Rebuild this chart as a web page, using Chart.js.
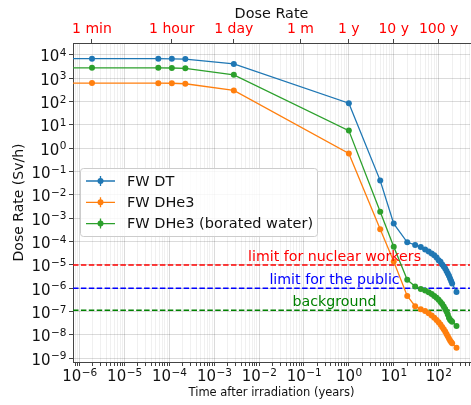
<!DOCTYPE html>
<html>
<head>
<meta charset="utf-8">
<script src="https://cdn.jsdelivr.net/npm/chart.js@4.4.0/dist/chart.umd.min.js"></script>
<style>
  html, body { margin: 0; padding: 0; background: #fff; }
  #wrap { width: 471px; height: 405px; }
</style>
</head>
<body>
<div id="wrap"><canvas id="chart"></canvas></div>
<script>
// time after irradiation (years); first entry stands in for t = 0 (off the left edge)
const times = [1e-7, 1.9e-6, 5.7e-5, 1.14e-4, 2.28e-4, 2.74e-3, 1, 5, 10,
  20, 30, 40, 50, 60, 70, 80, 90, 100, 110, 120, 130, 140, 150, 160, 170, 180, 190, 200, 250];

// dose rate (Sv/h)
const fwDT = [6.9e3, 6.9e3, 6.9e3, 6.8e3, 6.6e3, 4.1e3, 85, 0.041, 5.9e-4,
  9.3e-5, 7.2e-5, 5.8e-5, 4.6e-5, 3.8e-5, 3.1e-5, 2.6e-5, 2.1e-5, 1.6e-5, 1.35e-5, 1.05e-5,
  8.5e-6, 7e-6, 5.5e-6, 4.3e-6, 3.4e-6, 2.6e-6, 2.05e-6, 1.6e-6, 6.9e-7];
const fwDHe3 = [620, 620, 615, 610, 580, 300, 0.6, 3.4e-4, 1.4e-5,
  4.7e-7, 1.7e-7, 1.26e-7, 1.05e-7, 8.5e-8, 6.8e-8, 5.5e-8, 4.4e-8, 3.5e-8, 2.8e-8, 2.2e-8,
  1.75e-8, 1.4e-8, 1.1e-8, 8.8e-9, 7.0e-9, 5.8e-9, 5.0e-9, 4.4e-9, 2.8e-9];
const fwDHe3Borated = [2.8e3, 2.8e3, 2.8e3, 2.75e3, 2.65e3, 1.4e3, 5.7, 1.9e-3, 6e-5,
  2.3e-6, 1.2e-6, 9.3e-7, 8.0e-7, 6.8e-7, 5.6e-7, 4.7e-7, 3.9e-7, 3.2e-7, 2.6e-7, 2.1e-7,
  1.65e-7, 1.3e-7, 1.0e-7, 7.5e-8, 5.5e-8, 4.5e-8, 4.0e-8, 3.7e-8, 2.4e-8];

const seriesNames = ['FW DT', 'FW DHe3', 'FW DHe3 (borated water)'];
const seriesValues = [fwDT, fwDHe3, fwDHe3Borated];
const seriesColors = ['#1f77b4', '#ff7f0e', '#2ca02c'];

// reference levels
const limitValues = [1e-5, 1e-6, 1.15e-7];
const limitLabels = ['limit for nuclear workers', 'limit for the public', 'background'];
const limitColors = ['#ff0000', '#0000ff', '#008000'];
const limitLabelX = 0.48;

// secondary (top) axis
const topTickValues = [1.9e-6, 1.14e-4, 2.74e-3, 8.33e-2, 1, 10, 100];
const topTickLabels = ['1 min', '1 hour', '1 day', '1 m', '1 y', '10 y', '100 y'];

const xMin = 7.17e-7, xMax = 501;
const yMin = 6.9e-10, yMax = 3.24e4;

const FONT = "'DejaVu Sans', sans-serif";
const isPow10 = v => Math.abs(Math.log10(v) - Math.round(Math.log10(v))) < 1e-9;
const expOf = v => String(Math.round(Math.log10(v))).replace('-', '\u2212');

// 1..9 x 10^n inside [lo, hi]
function logTicks(lo, hi, minors) {
  const out = [];
  for (let e = Math.floor(Math.log10(lo)); e <= Math.ceil(Math.log10(hi)); e++) {
    for (let m = 1; m <= 9; m++) {
      if (!minors && m > 1) break;
      const v = m * Math.pow(10, e);
      if (v >= lo && v <= hi) out.push({ value: v, major: m === 1 });
    }
  }
  return out;
}

const datasets = seriesNames.map((name, i) => ({
  label: name,
  data: times.map((t, j) => ({ x: t, y: seriesValues[i][j] })),
  borderColor: seriesColors[i],
  backgroundColor: seriesColors[i],
  borderWidth: 1.3,
  pointRadius: 3,
  pointBorderWidth: 0,
  showLine: true,
  order: 3 - i
}));

limitValues.forEach((v, i) => {
  datasets.push({
    label: limitLabels[i],
    data: [{ x: xMin, y: v }, { x: xMax, y: v }],
    borderColor: limitColors[i],
    borderWidth: 1.5,
    borderDash: [5.5, 2.4],
    pointRadius: 0,
    showLine: true,
    order: 10
  });
});

// "10" + raised exponent, like matplotlib's mathtext labels
function drawPow(ctx, v, x, base, align) {
  const main = '10', ex = expOf(v);
  ctx.font = '15px ' + FONT;
  const wm = ctx.measureText(main).width;
  ctx.font = '10.5px ' + FONT;
  const we = ctx.measureText(ex).width;
  const left = align === 'right' ? x - wm - we : x - (wm + we) / 2;
  ctx.font = '15px ' + FONT;
  ctx.fillText(main, left, base);
  ctx.font = '10.5px ' + FONT;
  ctx.fillText(ex, left + wm + 0.5, base - 5.5);
}

const powLabelPlugin = {
  id: 'powLabels',
  afterDraw(chart) {
    const { ctx, scales } = chart;
    ctx.save();
    ctx.fillStyle = '#111';
    ctx.textAlign = 'left';
    ctx.textBaseline = 'alphabetic';
    scales.x.ticks.filter(t => isPow10(t.value)).forEach(t => {
      drawPow(ctx, t.value, scales.x.getPixelForValue(t.value), 381, 'center');
    });
    scales.y.ticks.forEach(t => {
      drawPow(ctx, t.value, 66, scales.y.getPixelForValue(t.value) + 6.5, 'right');
    });
    ctx.restore();
  }
};

const limitTextPlugin = {
  id: 'limitText',
  afterDatasetsDraw(chart) {
    const { ctx, scales } = chart;
    ctx.save();
    ctx.font = '14.2px ' + FONT;
    ctx.textAlign = 'center';
    ctx.textBaseline = 'alphabetic';
    limitValues.forEach((v, i) => {
      ctx.fillStyle = limitColors[i];
      ctx.fillText(limitLabels[i], scales.x.getPixelForValue(limitLabelX), scales.y.getPixelForValue(v) - 4);
    });
    ctx.restore();
  }
};

const legendPlugin = {
  id: 'boxLegend',
  afterDraw(chart) {
    const ctx = chart.ctx;
    ctx.save();
    const bx = 80.5, by = 168.5, bw = 237, bh = 68, r = 3;
    ctx.beginPath();
    ctx.moveTo(bx + r, by);
    ctx.arcTo(bx + bw, by, bx + bw, by + bh, r);
    ctx.arcTo(bx + bw, by + bh, bx, by + bh, r);
    ctx.arcTo(bx, by + bh, bx, by, r);
    ctx.arcTo(bx, by, bx + bw, by, r);
    ctx.closePath();
    ctx.fillStyle = 'rgba(255,255,255,0.8)';
    ctx.fill();
    ctx.strokeStyle = '#cccccc';
    ctx.lineWidth = 1;
    ctx.stroke();
    ctx.font = '14.5px ' + FONT;
    ctx.textBaseline = 'middle';
    seriesNames.forEach((name, i) => {
      const y = 181 + i * 21.3;
      ctx.strokeStyle = seriesColors[i];
      ctx.lineWidth = 1.3;
      ctx.beginPath();
      ctx.moveTo(86, y); ctx.lineTo(115, y);
      ctx.moveTo(100.5, y - 5); ctx.lineTo(100.5, y + 5);
      ctx.stroke();
      ctx.fillStyle = seriesColors[i];
      ctx.beginPath();
      ctx.arc(100.5, y, 3, 0, Math.PI * 2);
      ctx.fill();
      ctx.fillStyle = '#111';
      ctx.fillText(name, 127, y + 1);
    });
    ctx.restore();
  }
};

const gridColor = c => (c.tick && isPow10(c.tick.value)) ? 'rgba(0,0,0,0.14)' : 'rgba(0,0,0,0.06)';

new Chart(document.getElementById('chart'), {
  type: 'scatter',
  data: { datasets },
  options: {
    responsive: true,
    maintainAspectRatio: false,
    animation: false,
    devicePixelRatio: 1,
    layout: { padding: 0, autoPadding: false },
    plugins: { legend: { display: false }, tooltip: { enabled: false } },
    events: [],
    scales: {
      x: {
        type: 'logarithmic',
        position: 'bottom',
        min: xMin, max: xMax,
        bounds: 'data',
        afterBuildTicks: s => { s.ticks = logTicks(xMin, xMax, true); },
        afterFit: s => { s.height = 43; },
        ticks: { autoSkip: false, maxRotation: 0, padding: 1, callback: () => '' },
        grid: { color: gridColor, tickColor: '#444', tickLength: 4 },
        border: { color: '#444' },
        title: {
          display: true, text: 'Time after irradiation (years)',
          color: '#111', font: { family: FONT, size: 11.5 }, padding: { top: 0, bottom: 5 }
        }
      },
      x2: {
        type: 'logarithmic',
        position: 'top',
        min: xMin, max: xMax,
        bounds: 'data',
        afterBuildTicks: s => { s.ticks = topTickValues.map(v => ({ value: v })); },
        afterFit: s => { s.height = 43; },
        ticks: {
          autoSkip: false, maxRotation: 0, padding: 1,
          color: '#ff0000', font: { family: FONT, size: 14 },
          callback: (v, i) => topTickLabels[i]
        },
        grid: { drawOnChartArea: false, tickColor: '#444', tickLength: 4 },
        border: { color: '#444' },
        title: {
          display: true, text: 'Dose Rate',
          color: '#111', font: { family: FONT, size: 14.4 }, padding: { top: 6, bottom: 0 }
        }
      },
      y: {
        type: 'logarithmic',
        position: 'left',
        min: yMin, max: yMax,
        bounds: 'data',
        afterBuildTicks: s => { s.ticks = logTicks(yMin, yMax, false); },
        afterFit: s => { s.width = 73; },
        ticks: { autoSkip: false, padding: 3, callback: () => '' },
        grid: { color: 'rgba(0,0,0,0.14)', tickColor: '#444', tickLength: 4 },
        border: { color: '#444' },
        title: {
          display: true, text: 'Dose Rate (Sv/h)',
          color: '#111', font: { family: FONT, size: 14 }, padding: { top: 11, bottom: 0 }
        }
      }
    }
  },
  plugins: [limitTextPlugin, legendPlugin, powLabelPlugin]
});
</script>
</body>
</html>
